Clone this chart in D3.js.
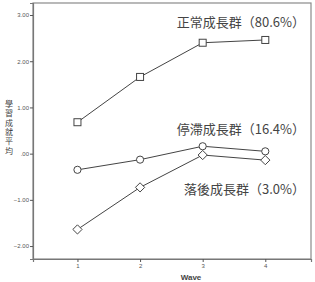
<!DOCTYPE html>
<html>
<head>
<meta charset="utf-8">
<script src="https://cdn.jsdelivr.net/npm/d3@7"></script>
<style>
  html, body { margin: 0; padding: 0; background: #fff; }
  svg { display: block; }
</style>
</head>
<body>
<div id="chart"></div>
<script>
// chart data
const waves = [1, 2, 3, 4];
const yTicks = [-2, -1, 0, 1, 2, 3];
const normalGroup = [0.68, 1.66, 2.40, 2.46];
const stagnantGroup = [-0.35, -0.13, 0.16, 0.05];
const laggingGroup = [-1.64, -0.73, -0.03, -0.14];
const groupLabels = ["正常成長群（80.6%）", "停滯成長群（16.4%）", "落後成長群（3.0%）"];
const yTitle = "學習成就平均";
const xTitle = "Wave";

const width = 315, height = 282;
const margin = { top: 3, right: 4, bottom: 23, left: 33 };

const x = d3.scaleLinear().domain([0.29, 4.73]).range([margin.left, width - margin.right]);
const y = d3.scaleLinear().domain([-2.28, 3.26]).range([height - margin.bottom, margin.top]);

const svg = d3.select("#chart").append("svg")
  .attr("width", width)
  .attr("height", height);

// frame
svg.append("rect")
  .attr("x", x.range()[0]).attr("y", y.range()[1])
  .attr("width", x.range()[1] - x.range()[0])
  .attr("height", y.range()[0] - y.range()[1])
  .attr("fill", "none")
  .attr("stroke", "#8a8a8a")
  .attr("stroke-width", 1.2);

const yAxis = svg.append("g")
  .attr("transform", `translate(${x.range()[0]},0)`)
  .call(d3.axisLeft(y).tickValues(yTicks).tickSize(3).tickPadding(1)
    .tickFormat(d => d === 0 ? ".00" : d3.format(".2f")(d)));

const xAxis = svg.append("g")
  .attr("transform", `translate(0,${y.range()[0]})`)
  .call(d3.axisBottom(x).tickValues(waves).tickSize(3).tickPadding(2).tickFormat(d3.format("d")));

[yAxis, xAxis].forEach(g => {
  g.select(".domain").attr("stroke", "#777").attr("stroke-width", 1.2);
  g.selectAll(".tick line").attr("stroke", "#555");
  g.selectAll(".tick text")
    .attr("fill", "#555")
    .style("font", "6px 'Liberation Sans', Arial, sans-serif");
});

const line = d3.line().x((d, i) => x(waves[i])).y(d => y(d));

const series = [
  { values: normalGroup, shape: "square" },
  { values: stagnantGroup, shape: "circle" },
  { values: laggingGroup, shape: "diamond" }
];

series.forEach(s => {
  svg.append("path")
    .datum(s.values)
    .attr("fill", "none")
    .attr("stroke", "#444")
    .attr("stroke-width", 1)
    .attr("d", line);

  const marks = svg.append("g").selectAll("g")
    .data(s.values)
    .join("g")
    .attr("transform", (d, i) => `translate(${x(waves[i])},${y(d)})`);

  if (s.shape === "square") {
    marks.append("rect").attr("x", -3.5).attr("y", -3.5).attr("width", 7).attr("height", 7);
  } else if (s.shape === "circle") {
    marks.append("circle").attr("r", 3.6);
  } else {
    marks.append("path").attr("d", "M0,-4.6L4.6,0L0,4.6L-4.6,0Z");
  }
  marks.selectAll("*").attr("fill", "#fff").attr("stroke", "#444").attr("stroke-width", 1);
});

// group labels
const labelPos = [22, 129, 189];
svg.append("g")
  .selectAll("text")
  .data(groupLabels)
  .join("text")
  .attr("x", 305)
  .attr("y", (d, i) => labelPos[i])
  .attr("dy", "0.35em")
  .attr("text-anchor", "end")
  .attr("fill", "#444")
  .style("font", "13px 'Noto Sans CJK TC', sans-serif")
  .text(d => d);

// y title, vertical writing
svg.append("text")
  .attr("x", 9)
  .attr("y", 128)
  .attr("text-anchor", "middle")
  .attr("fill", "#444")
  .style("font", "8px 'Noto Sans CJK TC', sans-serif")
  .style("writing-mode", "vertical-rl")
  .style("letter-spacing", "1.4px")
  .text(yTitle);

svg.append("text")
  .attr("x", 191)
  .attr("y", 280)
  .attr("text-anchor", "middle")
  .attr("fill", "#444")
  .style("font", "bold 8px 'Liberation Sans', Arial, sans-serif")
  .text(xTitle);
</script>
</body>
</html>
